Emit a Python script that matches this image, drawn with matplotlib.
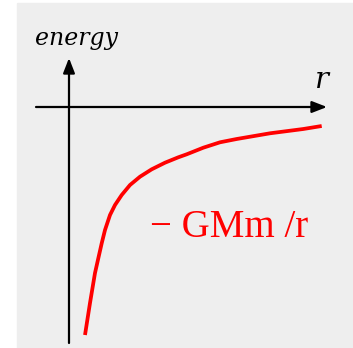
import numpy as np
import matplotlib
matplotlib.use("Agg")
import matplotlib.pyplot as plt
from matplotlib.patches import Rectangle

# curva (unidades arbitrarias, origen en el cruce de ejes)
r = [1.6, 2.1, 2.6, 2.93, 3.27, 3.6, 4.1, 4.6, 5.27, 6.1, 7.1, 8.27, 9.6, 10.93,
     11.77, 13.43, 15.1, 16.77, 20.1, 23.43, 25.27]
energia = [-22.8, -19.6, -16.6, -15.13, -13.63, -12.3, -10.8, -9.8, -8.8, -7.8, -6.97,
           -6.23, -5.57, -5.03, -4.73, -4.07, -3.53, -3.2, -2.63, -2.2, -1.9]

etiqueta_y = "energy"
etiqueta_x = "r"
etiqueta_curva = "\u2212 GMm /r"

fig = plt.figure(figsize=(3.53, 3.48), dpi=100)
ax = fig.add_axes([0, 0, 1, 1])
ax.set_xlim(-6.9, 28.4)
ax.set_ylim(-24.1, 10.7)
ax.axis("off")

# fondo gris
ax.add_patch(Rectangle((-5.2, -24.1), 33.6, 34.5, color="#eeeeee", zorder=0))

# ejes con flecha
flecha = dict(arrowstyle="-|>,head_length=0.9,head_width=0.35", color="black", lw=1.6,
              shrinkA=0, shrinkB=0)
ax.annotate("", xy=(0, 4.9), xytext=(0, -23.6), arrowprops=flecha)
ax.annotate("", xy=(25.8, 0), xytext=(-3.3, 0), arrowprops=flecha)

ax.plot(r, energia, color="red", lw=2.7, solid_capstyle="butt", solid_joinstyle="round")

ax.text(-3.4, 6.2, etiqueta_y, fontsize=17, family="DejaVu Serif", style="italic",
        ha="left", va="baseline")
ax.text(25.3, 1.9, etiqueta_x, fontsize=21, family="DejaVu Serif", style="italic",
        ha="center", va="baseline")
ax.text(8.1, -13.0, etiqueta_curva, fontsize=28, family="Liberation Serif", color="red",
        ha="left", va="baseline")

fig.savefig("out.png", dpi=100)
